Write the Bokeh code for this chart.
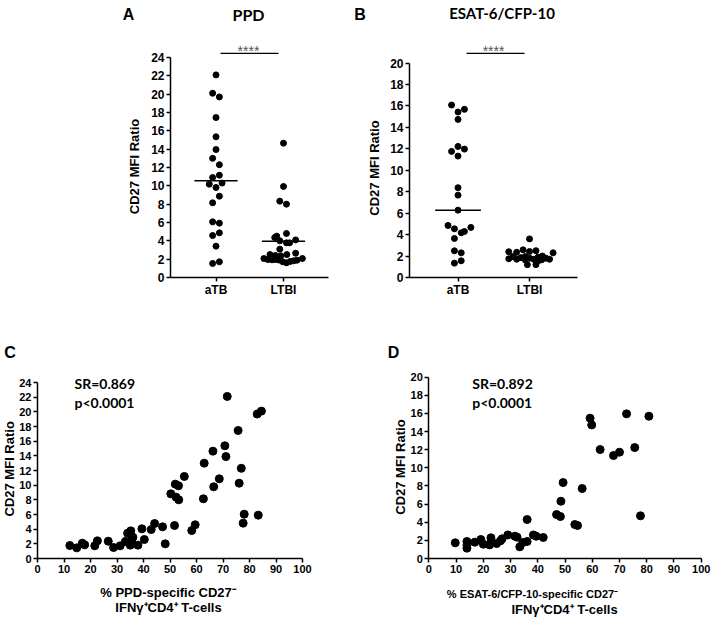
from bokeh.plotting import figure
from bokeh.layouts import row, column
from bokeh.models import FixedTicker, Label
from bokeh.embed import file_html
from bokeh.resources import INLINE

# ---------------- data ----------------
groups = ["aTB", "LTBI"]

# Panel A: PPD, CD27 MFI ratio per group (swarm offsets)
ppd_atb = [22.1, 20.1, 19.7, 17.45, 15.35, 13.96, 13.0, 12.3, 11.16, 10.9, 10.3,
           10.18, 9.82, 8.87, 8.15, 6.07, 5.93, 4.87, 4.58, 3.42, 1.71, 1.53]
ppd_atb_swarm = [0.0, -0.05, 0.05, 0.0, 0.0, 0.0, -0.05, 0.05, 0.05, -0.05, 0.09,
                 -0.10, 0.0, 0.05, -0.05, -0.05, 0.05, 0.05, -0.05, 0.0, 0.05, -0.05]
ppd_ltbi = [14.65, 9.93, 8.33, 8.0, 4.8, 4.51, 4.36, 4.1, 4.0, 3.78, 3.78, 3.09,
            2.5, 2.4, 2.36, 2.5, 2.65,
            2.07, 1.96, 1.93, 1.96, 1.9, 1.71, 1.6, 1.75, 1.82, 1.89, 2.07]
ppd_ltbi_swarm = [0.0, 0.0, -0.055, 0.044, 0.044, -0.10, -0.13, 0.18, -0.055, 0.09, 0.044, -0.055,
                  -0.20, -0.12, -0.04, 0.05, 0.18,
                  -0.29, -0.23, -0.17, -0.12, -0.065, -0.01, 0.044, 0.10, 0.15, 0.20, 0.28]
ppd_center = [10.55, 3.96]

# Panel B: ESAT-6/CFP-10
esat_atb = [16.08, 15.43, 15.68, 14.74, 12.22, 11.97, 11.76, 11.32, 8.37, 7.68, 6.28,
            4.85, 4.54, 4.17, 4.29, 4.67, 3.64, 2.49, 2.30, 1.34, 1.56]
esat_atb_swarm = [-0.09, 0.0, 0.09, 0.0, 0.0, 0.09, -0.09, 0.0, 0.0, 0.0, 0.0,
                  -0.14, -0.05, 0.045, 0.09, 0.18, -0.05, -0.05, 0.045, -0.05, 0.045]
esat_ltbi = [3.6, 2.58, 2.5, 2.4, 2.3, 2.35, 2.42, 1.95, 1.75, 1.7, 1.85, 1.65, 1.8,
             1.7, 1.9, 1.65, 1.8, 1.7, 1.2, 1.2, 1.95, 1.55, 2.0]
esat_ltbi_swarm = [0.0, -0.09, 0.09, -0.29, 0.33, -0.18, 0.0, -0.23, -0.29, -0.18, -0.12, -0.06, 0.0,
                   0.06, 0.12, 0.17, 0.23, 0.28, -0.03, 0.09, -0.06, 0.12, 0.18]
esat_center = [6.28, 1.85]

# Panel C: % PPD-specific CD27- IFNg+CD4+ T-cells vs CD27 MFI ratio
ppd_pct = [71.6, 82.9, 84.5, 75.7, 70.7, 66.2, 71.1, 62.9, 76.9, 55.4, 52.0, 53.2, 68.6,
           66.5, 76.1, 50.3, 52.3, 53.3, 62.6, 78.0, 83.3, 77.6, 51.7, 59.5, 58.2,
           12.2, 14.8, 16.9, 17.8, 21.6, 22.6, 26.7, 28.7, 31.2, 33.2, 34.0, 34.6, 35.0,
           35.2, 36.0, 35.6, 37.9, 39.4, 40.3, 42.9, 44.2, 47.2, 48.2]
ppd_ratio = [22.1, 19.7, 20.1, 17.46, 15.37, 14.64, 13.9, 13.0, 12.3, 11.19, 10.14, 9.92, 10.87,
             9.78, 10.27, 8.82, 8.37, 8.0, 8.14, 6.04, 5.91, 4.82, 4.5, 4.6, 3.82,
             1.77, 1.45, 2.09, 1.86, 1.73, 2.41, 2.36, 1.5, 1.73, 2.32, 3.45, 2.14, 1.82,
             3.77, 2.9, 2.59, 1.82, 4.05, 2.59, 3.95, 4.77, 4.32, 2.0]

# Panel D: % ESAT-6/CFP-10-specific CD27- IFNg+CD4+ T-cells vs CD27 MFI ratio
esat_pct = [59.2, 59.8, 72.6, 80.8, 62.9, 67.8, 70.0, 75.6, 49.3, 56.3, 48.5, 46.9, 48.3,
            77.7, 53.6, 54.6, 36.1,
            9.7, 14.0, 14.0, 14.0, 16.9, 19.1, 20.0, 22.8, 22.8, 22.3, 24.9, 26.3, 26.9,
            29.0, 31.6, 32.4, 33.4, 34.5, 36.1, 38.4, 39.4, 42.0]
esat_ratio = [15.48, 14.74, 15.96, 15.7, 12.02, 11.36, 11.73, 12.24, 8.38, 7.72, 6.32, 4.85, 4.63,
              4.71, 3.75, 3.64, 4.3,
              1.73, 1.88, 1.47, 1.14, 1.8, 2.1, 1.58, 2.28, 1.8, 1.5, 1.65, 1.95, 2.17,
              2.6, 2.46, 2.35, 1.29, 1.76, 1.88, 2.6, 2.46, 2.32]

FONT = "Liberation Sans"


def make_fig(width, height, xr, yr):
    p = figure(width=width, height=height, x_range=xr, y_range=yr, title=None,
               output_backend="svg", toolbar_location=None,
               min_border_left=0, min_border_right=0,
               min_border_top=0, min_border_bottom=0)
    p.grid.visible = False
    p.outline_line_color = None
    p.background_fill_color = "white"
    p.border_fill_color = "white"
    return p


def style_axes(p, tick_size, x_at, y_at, xb, yb):
    for ax in (p.xaxis[0], p.yaxis[0]):
        ax.axis_line_width = 1.5
        ax.axis_line_color = "black"
        ax.major_tick_line_width = 1.5
        ax.major_tick_line_color = "black"
        ax.major_tick_in = 0
        ax.major_tick_out = 4
        ax.minor_tick_line_color = None
        ax.major_label_text_font = FONT
        ax.major_label_text_font_style = "bold"
        ax.major_label_text_font_size = tick_size
        ax.major_label_text_color = "black"
        ax.major_label_standoff = 2
    p.xaxis.fixed_location = x_at
    p.yaxis.fixed_location = y_at
    p.xaxis.bounds = xb
    p.yaxis.bounds = yb


def lab(p, x, y, text, size, font=FONT, style_="bold", angle=0, align="center",
        baseline="middle", color="black"):
    p.add_layout(Label(x=x, y=y, text=text, text_font=font, text_font_style=style_,
                       text_font_size=size, angle=angle, text_align=align,
                       text_baseline=baseline, text_color=color))


def dot_plot(width, xr, yr, x_left, x_right, ytop, atb, atb_sw, ltbi, ltbi_sw, center):
    p = make_fig(width, 318, xr, yr)
    style_axes(p, "12px", 0, x_left, (x_left, x_right), (0, ytop))
    p.yaxis.ticker = FixedTicker(ticks=list(range(0, ytop + 1, 2)))
    p.xaxis.ticker = FixedTicker(ticks=[1, 2])
    p.xaxis.major_label_overrides = {1: groups[0], 2: groups[1]}
    p.scatter([1 + o for o in atb_sw], atb, size=6, color="black")
    p.scatter([2 + o for o in ltbi_sw], ltbi, size=6, color="black")
    p.segment(x0=[0.68, 1.68], x1=[1.32, 2.32], y0=center, y1=center,
              line_color="black", line_width=1.5)
    return p


# ---- Panel A ----
pA = dot_plot(354, (-2.193, 3.052), (-4.473, 30.217), 0.326, 2.667, 24,
              ppd_atb, ppd_atb_swarm, ppd_ltbi, ppd_ltbi_swarm, ppd_center)
pA.segment(x0=1.067, x1=1.926, y0=24.44, y1=24.44, line_color="black", line_width=1.3)
lab(pA, 1.481, 24.71, "****", "14px", style_="normal", baseline="alphabetic", color="#555555")
lab(pA, -0.207, 12.11, "CD27 MFI Ratio", "13px", angle=1.5708)
lab(pA, -0.296, 28.69, "A", "16px")
lab(pA, 1.481, 28.69, "PPD", "16px", font="Lato")

# ---- Panel B ----
pB = dot_plot(359, (-0.4476, 4.573), (-3.823, 25.828), 0.322, 2.672, 20,
              esat_atb, esat_atb_swarm, esat_ltbi, esat_ltbi_swarm, esat_center)
pB.segment(x0=1.119, x1=1.93, y0=20.89, y1=20.89, line_color="black", line_width=1.3)
lab(pB, 1.497, 21.12, "****", "14px", style_="normal", baseline="alphabetic", color="#555555")
lab(pB, -0.161, 10.21, "CD27 MFI Ratio", "13px", angle=1.5708)
lab(pB, -0.371, 24.52, "B", "16px")
lab(pB, 1.615, 24.62, "ESAT-6/CFP-10", "15px", font="Lato")


def scatter_plot(width, xr, yr, ytop, xs, ys):
    p = make_fig(width, 302, xr, yr)
    style_axes(p, "11px", 0, 0, (0, 100), (0, ytop))
    p.yaxis.ticker = FixedTicker(ticks=list(range(0, ytop + 1, 2)))
    p.xaxis.ticker = FixedTicker(ticks=list(range(0, 101, 10)))
    p.scatter(xs, ys, size=8, color="black")
    return p


# ---- Panel C ----
pC = scatter_plot(354, (-13.962, 119.62), (-8.455, 32.73), 24, ppd_pct, ppd_ratio)
lab(pC, -10.75, 12.23, "CD27 MFI Ratio", "13px", angle=1.5708)
lab(pC, -10.38, 28.09, "C", "16px")
lab(pC, 13.96, 23.82, "SR=0.869", "14px", font="Lato", align="left")
lab(pC, 13.96, 21.27, "p<0.0001", "14px", font="Lato", align="left")
lab(pC, 49.25, -4.6, "% PPD-specific CD27\u207b", "13px")
lab(pC, 49.43, -6.68, "IFN\u03b3\u207aCD4\u207a T-cells", "13px")

# ---- Panel D ----
pD = scatter_plot(359, (-27.28, 104.51), (-6.84, 26.48), 20, esat_pct, esat_ratio)
lab(pD, -10.39, 10.09, "CD27 MFI Ratio", "13px", angle=1.5708)
lab(pD, -12.96, 22.72, "D", "16px")
lab(pD, 15.93, 19.3, "SR=0.892", "14px", font="Lato", align="left")
lab(pD, 15.93, 17.21, "p<0.0001", "14px", font="Lato", align="left")
lab(pD, 38.62, -3.97, "%  ESAT-6/CFP-10-specific CD27\u207b", "11px")
lab(pD, 49.82, -5.63, "IFN\u03b3\u207aCD4\u207a T-cells", "13px")

layout = column(row(pA, pB), row(pC, pD))

open("out.html", "w").write(file_html(layout, INLINE))
